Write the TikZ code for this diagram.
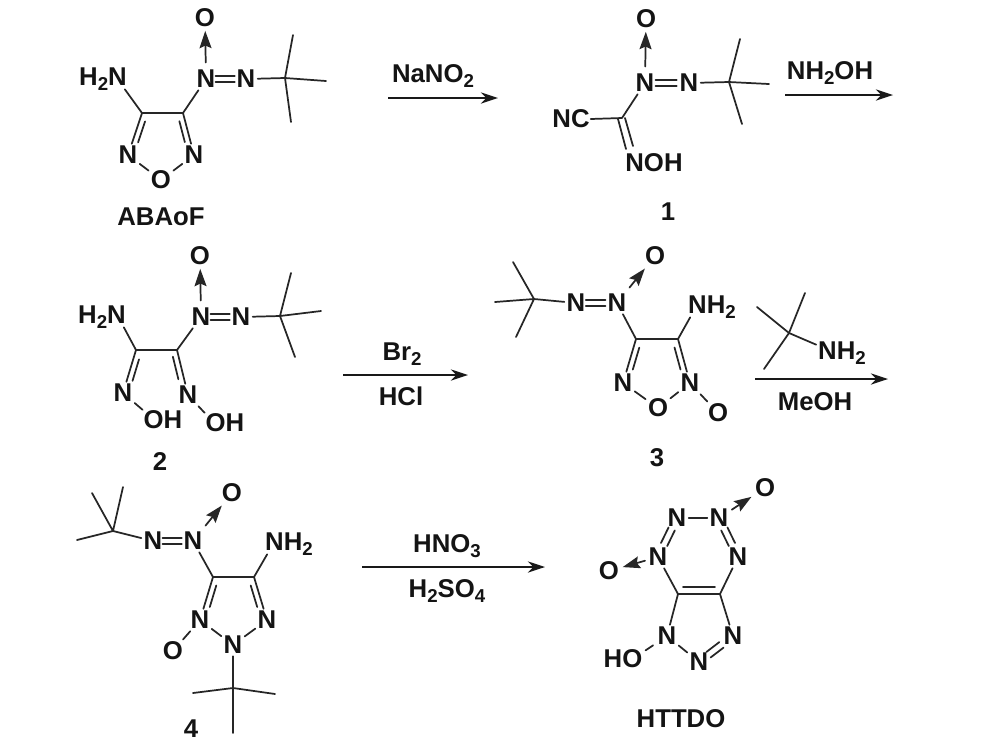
\documentclass[tikz,border=0pt]{standalone}
\usepackage{fontspec}
\setmainfont{Liberation Sans}
\usetikzlibrary{calc,arrows.meta}
\newcommand{\sbt}[1]{\raisebox{-3.6pt}{\fontsize{14}{16}\selectfont #1}}
\tikzset{
  txt/.style={font=\fontsize{19.3}{22}\selectfont\bfseries,inner sep=0.6pt,text=black!92},
  atom/.style={txt,inner sep=1.6pt},
  bond/.style={line width=1.3pt,line cap=round,black!85},
  dative/.style={bond,shorten <=4pt,shorten >=1pt,-{Stealth[length=13pt,width=9pt,inset=2pt]}},
  rxn/.style={line width=1.1pt,black!90,-{Stealth[length=13pt,width=8.5pt]}}
}
% inner line of a double bond: a, b, offset (left of a->b), start and end fractions
\newcommand{\dbl}[5]{\draw[bond] ($(#1)!#4!(#2)!#3!90:(#2)$) -- ($(#1)!#5!(#2)!#3!90:(#2)$);}
% symmetric N=N
\newcommand{\azo}[2]{\dbl{#1}{#2}{2.3pt}{.24}{.72}\dbl{#1}{#2}{-2.3pt}{.24}{.72}}
\begin{document}
\begin{tikzpicture}[x=0.75pt,y=-0.75pt]
\useasboundingbox (0,0) rectangle (992,744);
\fill[white] (0,0) rectangle (992,744);

%% ABAoF
\node[atom] (aO) at (205,18) {O};
\node[atom] (aN1) at (206,79) {N};
\node[atom] (aN2) at (246,79) {N};
\coordinate (aT) at (285,78);
\coordinate (aTa) at (293,35);
\coordinate (aTb) at (326,81);
\coordinate (aTc) at (291,122);
\node[txt] (aH) at (103,79) {H\sbt{2}N};
\coordinate (aC1) at (142,113);
\coordinate (aC2) at (183,113);
\node[atom] (aR1) at (128,155) {N};
\node[atom] (aR2) at (194,155) {N};
\node[atom] (aR3) at (161,180) {O};
\node[txt] (aL) at (161,217) {ABAoF};
\draw[dative] (aN1) -- (aO);
\azo{aN1}{aN2}
\draw[bond] (aN2) -- (aT) (aT) -- (aTa) (aT) -- (aTb) (aT) -- (aTc);
\draw[bond] (aH.south east) ++(-3,-2) -- (aC1);
\draw[bond] (aN1) -- (aC2);
\draw[bond,line width=1.8pt] (aC1) -- (aC2);
\draw[bond] (aC1) -- (aR1) (aC2) -- (aR2) (aR1) -- (aR3) (aR2) -- (aR3);
\dbl{aC1}{aR1}{4.2pt}{.16}{.66}
\dbl{aC2}{aR2}{-4.2pt}{.16}{.66}

%% arrow 1
\coordinate (r1a) at (388,98);
\coordinate (r1b) at (498,98);
\node[txt] (r1t) at (433,76) {NaNO\sbt{2}};
\draw[rxn] (r1a) -- (r1b);

%% 1
\node[atom] (bO) at (646,19) {O};
\node[atom] (bN1) at (645,83) {N};
\node[atom] (bN2) at (689,83) {N};
\coordinate (bT) at (729,82);
\coordinate (bTa) at (740,39);
\coordinate (bTb) at (769,84);
\coordinate (bTc) at (742,124);
\coordinate (bC) at (622,118);
\node[txt] (bNC) at (571,119) {NC};
\node[txt] (bNOH) at (654,163) {NOH};
\node[txt] (bL) at (668,212) {1};
\draw[dative] (bN1) -- (bO);
\azo{bN1}{bN2}
\draw[bond] (bN2) -- (bT) (bT) -- (bTa) (bT) -- (bTb) (bT) -- (bTc);
\draw[bond] (bN1) -- (bC) (bNC.east) -- (bC);
\coordinate (bNa) at (626,149);
\coordinate (bNb) at (633,146);
\draw[bond] (bC) ++(-4,1) -- (bNa);
\draw[bond] (bC) ++(3,0) -- (bNb);

%% arrow 2
\coordinate (r2a) at (785,95);
\coordinate (r2b) at (893,95);
\node[txt] (r2t) at (830,73) {NH\sbt{2}OH};
\draw[rxn] (r2a) -- (r2b);

%% 2
\node[atom] (cO) at (200,256) {O};
\node[atom] (cN1) at (201,317) {N};
\node[atom] (cN2) at (241,317) {N};
\coordinate (cT) at (280,316);
\coordinate (cTa) at (291,273);
\coordinate (cTb) at (321,311);
\coordinate (cTc) at (295,357);
\node[txt] (cH) at (102,317) {H\sbt{2}N};
\coordinate (cC1) at (136,350);
\coordinate (cC2) at (177,350);
\node[atom] (cR1) at (123,393) {N};
\node[atom] (cR2) at (188,395) {N};
\node[txt] (cOH1) at (163,420) {OH};
\node[txt] (cOH2) at (225,423) {OH};
\node[txt] (cL) at (160,462) {2};
\draw[dative] (cN1) -- (cO);
\azo{cN1}{cN2}
\draw[bond] (cN2) -- (cT) (cT) -- (cTa) (cT) -- (cTb) (cT) -- (cTc);
\draw[bond] (cH.south east) ++(-3,-2) -- (cC1);
\draw[bond] (cN1) -- (cC2);
\draw[bond] (cC1) -- (cC2);
\draw[bond] (cC1) -- (cR1) (cC2) -- (cR2);
\dbl{cC1}{cR1}{4.2pt}{.18}{.68}
\dbl{cC2}{cR2}{-4.2pt}{.12}{.62}
\draw[bond] (cR1) -- (cOH1.north west) (cR2) -- (cOH2.north west);

%% arrow 3
\coordinate (r3a) at (343,375);
\coordinate (r3b) at (468,375);
\node[txt] (r3t) at (402,354) {Br\sbt{2}};
\node[txt] (r3u) at (401,396) {HCl};
\draw[rxn] (r3a) -- (r3b);

%% 3
\node[atom] (dO) at (655,256) {O};
\node[atom] (dN1) at (617,303) {N};
\node[atom] (dN2) at (576,303) {N};
\coordinate (dT) at (534,299);
\coordinate (dTa) at (513,262);
\coordinate (dTb) at (495,302);
\coordinate (dTc) at (516,337);
\node[txt] (dH) at (712,307) {NH\sbt{2}};
\coordinate (dC1) at (636,339);
\coordinate (dC2) at (678,339);
\node[atom] (dR1) at (623,383) {N};
\node[atom] (dR2) at (690,383) {N};
\node[atom] (dR3) at (658,408) {O};
\node[atom] (dX) at (718,413) {O};
\node[txt] (dL) at (657,458) {3};
\draw[dative] (dN1) -- (dO);
\azo{dN2}{dN1}
\draw[bond] (dN2) -- (dT) (dT) -- (dTa) (dT) -- (dTb) (dT) -- (dTc);
\draw[bond] (dN1) -- (dC1);
\draw[bond] (dH.south west) ++(3,-2) -- (dC2);
\draw[bond] (dC1) -- (dC2);
\draw[bond] (dC1) -- (dR1) (dC2) -- (dR2) (dR1) -- (dR3) (dR2) -- (dR3) (dR2) -- (dX);
\dbl{dC1}{dR1}{4.2pt}{.16}{.66}
\dbl{dC2}{dR2}{-4.2pt}{.16}{.66}

%% arrow 4
\coordinate (eT) at (789,333);
\coordinate (eTa) at (757,307);
\coordinate (eTb) at (805,293);
\coordinate (eTc) at (764,369);
\node[txt] (eN) at (842,353) {NH\sbt{2}};
\draw[bond] (eN.north west) ++(-1,4) -- (eT);
\draw[bond] (eT) -- (eTa) (eT) -- (eTb) (eT) -- (eTc);
\coordinate (r4a) at (755,379);
\coordinate (r4b) at (888,379);
\node[txt] (r4u) at (815,402) {MeOH};
\draw[rxn] (r4a) -- (r4b);

%% 4
\node[atom] (fO) at (232,493) {O};
\node[atom] (fN1) at (193,541) {N};
\node[atom] (fN2) at (153,541) {N};
\coordinate (fT) at (113,531);
\coordinate (fTa) at (92,493);
\coordinate (fTb) at (123,487);
\coordinate (fTc) at (77,540);
\node[txt] (fH) at (289,544) {NH\sbt{2}};
\coordinate (fC1) at (213,577);
\coordinate (fC2) at (254,577);
\node[atom] (fR1) at (200,620) {N};
\node[atom] (fR2) at (267,620) {N};
\node[atom] (fR3) at (233,645) {N};
\node[atom] (fX) at (173,651) {O};
\coordinate (gT) at (233,688);
\coordinate (gTa) at (193,693);
\coordinate (gTb) at (275,694);
\coordinate (gTc) at (233,733);
\node[txt] (fL) at (191,729) {4};
\draw[dative] (fN1) -- (fO);
\azo{fN2}{fN1}
\draw[bond] (fN2) -- (fT) (fT) -- (fTa) (fT) -- (fTb) (fT) -- (fTc);
\draw[bond] (fN1) -- (fC1);
\draw[bond] (fH.south west) ++(3,-2) -- (fC2);
\draw[bond,line width=1.8pt] (fC1) -- (fC2);
\draw[bond] (fC1) -- (fR1) (fC2) -- (fR2) (fR1) -- (fR3) (fR2) -- (fR3) (fR1) -- (fX);
\dbl{fC1}{fR1}{4.2pt}{.16}{.66}
\dbl{fC2}{fR2}{-4.2pt}{.16}{.66}
\draw[bond] (fR3) -- (gT) (gT) -- (gTa) (gT) -- (gTb) (gT) -- (gTc);

%% arrow 5
\coordinate (r5a) at (362,567);
\coordinate (r5b) at (545,567);
\node[txt] (r5t) at (447,546) {HNO\sbt{3}};
\node[txt] (r5u) at (447,591) {H\sbt{2}SO\sbt{4}};
\draw[rxn] (r5a) -- (r5b);

%% HTTDO
\node[atom] (hA) at (677,518) {N};
\node[atom] (hB) at (719,518) {N};
\node[atom] (hO1) at (765,488) {O};
\node[atom] (hC) at (658,557) {N};
\node[atom] (hD) at (738,557) {N};
\node[atom] (hO2) at (609,571) {O};
\coordinate (hE) at (678,594);
\coordinate (hF) at (720,594);
\node[atom] (hG) at (667,636) {N};
\node[atom] (hH) at (733,636) {N};
\node[atom] (hI) at (699,662) {N};
\node[txt] (hHO) at (623,659) {HO};
\node[txt] (hL) at (681,719) {HTTDO};
\draw[bond] (hA) -- (hB);
\draw[dative,shorten <=1pt] (hB) -- (hO1);
\draw[dative,shorten <=1pt] (hC) -- (hO2);
\dbl{hA}{hC}{2.6pt}{.28}{.68}
\dbl{hA}{hC}{-2.6pt}{.28}{.68}
\dbl{hB}{hD}{2.6pt}{.28}{.68}
\dbl{hB}{hD}{-2.6pt}{.28}{.68}
\draw[bond] (hC) -- (hE) (hD) -- (hF) (hE) -- (hG) (hF) -- (hH);
\draw[bond,line width=1.8pt] (hE) -- (hF);
\dbl{hE}{hF}{5.2pt}{.12}{.88}
\draw[bond] (hG) -- (hI);
\dbl{hI}{hH}{2.6pt}{.28}{.66}
\dbl{hI}{hH}{-2.6pt}{.28}{.66}
\draw[bond,shorten <=2pt,shorten >=2pt] (hHO.north east) ++(0,3) -- (hG);
\end{tikzpicture}
\end{document}
